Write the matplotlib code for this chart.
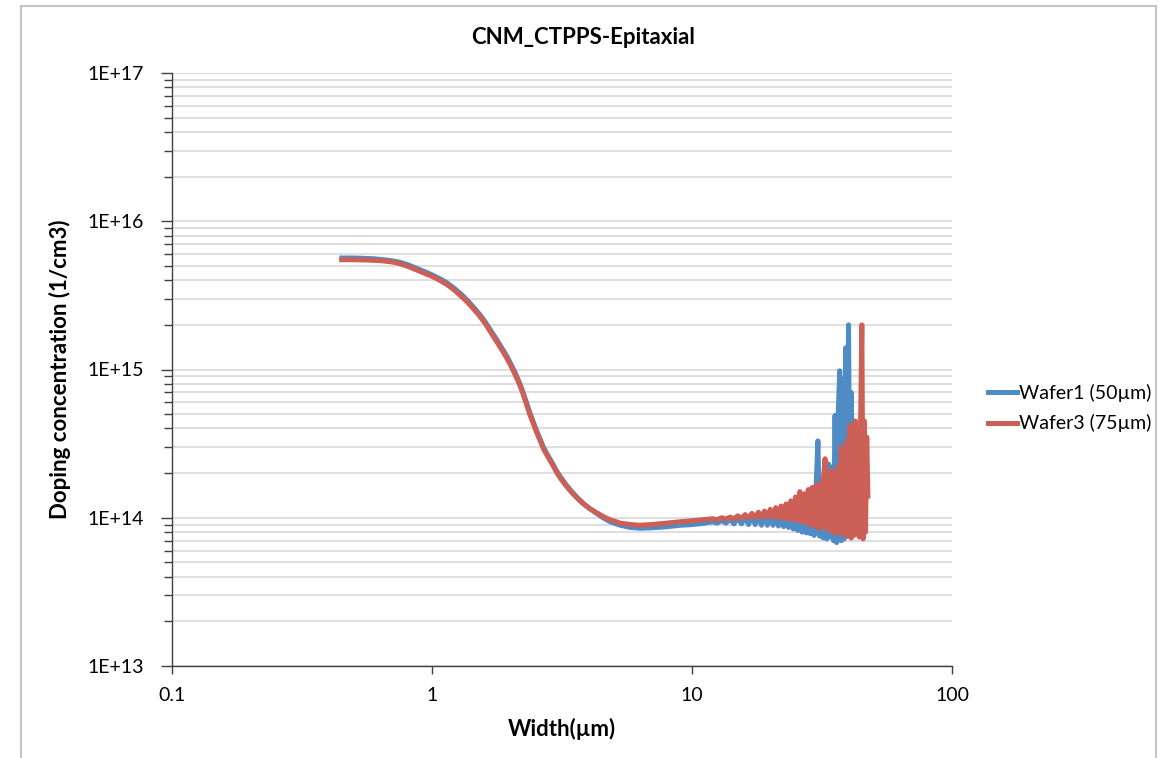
import numpy as np
import matplotlib.pyplot as plt
from matplotlib.ticker import FuncFormatter, LogLocator, NullFormatter
from matplotlib.patches import Rectangle

plt.rcParams['font.family'] = ['Lato', 'DejaVu Sans']

# Wafer1 (50um) - width (um) and doping (1/cm3)
w1_x = [0.45, 0.5, 0.55, 0.6, 0.65, 0.7, 0.75, 0.81, 0.87, 0.93, 1.0, 1.07, 1.14, 1.22, 1.3,
        1.37, 1.44, 1.52, 1.6, 1.68, 1.77, 1.85, 1.93, 2.01, 2.09, 2.16, 2.23, 2.3, 2.38,
        2.45, 2.52, 2.6, 2.68, 2.79, 2.9, 3.0, 3.11, 3.27, 3.45, 3.63, 3.82, 4.05, 4.3,
        4.55, 4.84, 5.3, 5.8, 6.3, 7.0, 8.0, 9.0, 10.0, 11.0,
        12.0, 12.5, 13.0, 13.5, 14.0, 14.5, 15.0, 15.5, 16.0, 16.5, 17.0, 17.5, 18.0, 18.5,
        19.0, 19.5, 20.0, 20.5, 21.0, 21.5, 22.0, 22.5, 23.0, 23.5, 24.0, 24.5, 25.0, 25.5,
        26.0, 26.5, 27.0, 27.5, 28.0, 28.5, 29.0, 29.5, 30.0, 30.5, 31.0, 31.5, 32.0, 32.5,
        33.0, 33.5, 34.0, 34.5, 35.0, 35.5, 36.0, 36.5, 37.0, 37.5, 38.0, 38.5, 39.0, 39.5,
        40.0, 40.5, 41.0, 41.5, 42.0, 42.5]
w1_y = [5.65e15, 5.65e15, 5.62e15, 5.58e15, 5.5e15, 5.42e15, 5.3e15, 5.08e15, 4.82e15,
        4.6e15, 4.35e15, 4.1e15, 3.85e15, 3.52e15, 3.2e15, 2.92e15, 2.65e15, 2.37e15,
        2.1e15, 1.84e15, 1.6e15, 1.41e15, 1.25e15, 1.09e15, 9.5e14, 8.3e14, 7.2e14, 6.1e14,
        5.1e14, 4.45e14, 3.9e14, 3.42e14, 3.0e14, 2.63e14, 2.35e14, 2.1e14, 1.9e14, 1.68e14,
        1.5e14, 1.36e14, 1.25e14, 1.15e14, 1.07e14, 1.0e14, 9.4e13, 8.9e13, 8.6e13, 8.5e13,
        8.55e13, 8.7e13, 8.9e13, 9.0e13, 9.15e13,
        9.4e13, 9.2e13, 9.6e13, 9.2e13, 9.8e13, 9.1e13, 1.0e14, 9.1e13, 1.01e14, 9.0e13,
        1.03e14, 9.0e13, 1.05e14, 8.9e13, 1.08e14, 8.9e13, 1.1e14, 8.9e13, 1.13e14, 8.8e13,
        1.17e14, 8.7e13, 1.2e14, 8.6e13, 1.25e14, 8.4e13, 1.3e14, 8.2e13, 1.35e14, 8.0e13,
        1.4e14, 7.9e13, 1.5e14, 7.8e13, 1.55e14, 7.6e13, 1.6e14, 3.3e14, 7.5e13, 1.8e14,
        7.3e13, 2.0e14, 7.2e13, 2.3e14, 7.4e13, 2.2e14, 7.0e13, 4.9e14, 6.8e13, 5.0e14,
        9.8e14, 7.0e13, 8.6e14, 7.2e13, 1.4e15, 7.5e13, 2.0e15, 8.0e13, 7.0e14, 9.0e13,
        2.9e14, 1.2e14]

# Wafer3 (75um)
w3_x = [0.45, 0.5, 0.55, 0.6, 0.65, 0.7, 0.75, 0.81, 0.87, 0.93, 1.0, 1.07, 1.14, 1.22, 1.3,
        1.37, 1.44, 1.52, 1.6, 1.68, 1.77, 1.85, 1.93, 2.01, 2.09, 2.16, 2.23, 2.3, 2.38,
        2.45, 2.52, 2.6, 2.68, 2.79, 2.9, 3.0, 3.11, 3.27, 3.45, 3.63, 3.82, 4.05, 4.3,
        4.55, 4.84, 5.3, 5.8, 6.3, 7.0, 8.0, 9.0, 10.0, 11.0,
        12.0, 12.5, 13.0, 13.5, 14.0, 14.5, 15.0, 15.5, 16.0, 16.5, 17.0, 17.5, 18.0, 18.5,
        19.0, 19.5, 20.0, 20.5, 21.0, 21.5, 22.0, 22.5, 23.0, 23.5, 24.0, 24.5, 25.0, 25.5,
        26.0, 26.5, 27.0, 27.5, 28.0, 28.5, 29.0, 29.5, 30.0, 30.5, 31.0, 31.5, 32.0, 32.5,
        33.0, 33.5, 34.0, 34.5, 35.0, 35.5, 36.0, 36.5, 37.0, 37.5, 38.0, 38.5, 39.0, 39.5,
        40.0, 40.5, 41.0, 41.5, 42.0, 42.5, 43.0, 43.5, 44.0, 44.5, 45.0, 45.5, 46.0, 46.5,
        47.0, 47.5]
w3_y = [5.5e15, 5.5e15, 5.48e15, 5.45e15, 5.4e15, 5.32e15, 5.18e15, 4.95e15, 4.7e15,
        4.48e15, 4.25e15, 4.0e15, 3.75e15, 3.43e15, 3.1e15, 2.84e15, 2.58e15, 2.31e15,
        2.05e15, 1.79e15, 1.55e15, 1.37e15, 1.21e15, 1.06e15, 9.2e14, 8.1e14, 7.0e14, 5.95e14,
        4.95e14, 4.35e14, 3.8e14, 3.35e14, 2.93e14, 2.58e14, 2.3e14, 2.06e14, 1.86e14, 1.65e14,
        1.48e14, 1.35e14, 1.24e14, 1.15e14, 1.08e14, 1.02e14, 9.7e13, 9.2e13, 9.0e13, 8.9e13,
        9.0e13, 9.2e13, 9.4e13, 9.55e13, 9.7e13,
        9.85e13, 9.7e13, 1.0e14, 9.8e13, 1.01e14, 9.85e13, 1.03e14, 9.9e13, 1.05e14, 1.0e14,
        1.07e14, 1.0e14, 1.09e14, 1.01e14, 1.11e14, 1.01e14, 1.14e14, 1.01e14, 1.17e14, 1.0e14,
        1.2e14, 9.9e13, 1.24e14, 9.8e13, 1.3e14, 9.7e13, 1.38e14, 9.6e13, 1.5e14, 9.4e13,
        1.45e14, 9.2e13, 1.55e14, 9.0e13, 1.6e14, 8.8e13, 1.65e14, 8.6e13, 1.7e14, 8.5e13,
        1.8e14, 2.5e14, 8.5e13, 2.0e14, 8.2e13, 2.1e14, 8.0e13, 1.9e14, 7.8e13, 2.2e14,
        8.5e13, 3.0e14, 7.8e13, 2.6e14, 7.6e13, 3.3e14, 7.5e13, 4.2e14, 7.3e13, 3.5e14,
        7.6e13, 4.5e14, 7.8e13, 3.8e14, 7.4e13, 4.3e14, 2.0e15, 7.2e13, 4.5e14, 8.0e13,
        3.5e14, 1.4e14]

fig = plt.figure(figsize=(11.66, 7.58), dpi=100)
ax = fig.add_axes([172 / 1166, 1 - 666 / 758, 780 / 1166, 593 / 758])

ax.plot(w1_x, w1_y, color='#4f8bc4', lw=3.6, label='Wafer1 (50µm)', solid_joinstyle='round')
ax.plot(w3_x, w3_y, color='#cc5f56', lw=3.6, label='Wafer3 (75µm)', solid_joinstyle='round')

ax.set_xscale('log')
ax.set_yscale('log')
ax.set_xlim(0.1, 100)
ax.set_ylim(1e13, 1e17)

ax.yaxis.set_major_locator(LogLocator(base=10, numticks=10))
ax.yaxis.set_minor_locator(LogLocator(base=10, subs=np.arange(2, 10), numticks=50))
ax.yaxis.set_minor_formatter(NullFormatter())
ax.yaxis.set_major_formatter(FuncFormatter(lambda v, _: f"1E+{int(round(np.log10(v)))}"))
ax.xaxis.set_major_formatter(FuncFormatter(lambda v, _: f"{v:g}"))
ax.xaxis.set_minor_locator(plt.NullLocator())

ax.grid(True, which='both', axis='y', color='#d9d9d9', lw=1.2)
ax.set_axisbelow(True)
for s in ['top', 'right']:
    ax.spines[s].set_visible(False)
for s in ['left', 'bottom']:
    ax.spines[s].set_color('#404040')
    ax.spines[s].set_linewidth(1.0)

ax.tick_params(axis='y', which='major', length=8, width=1, color='#404040', labelsize=14, pad=12)
ax.tick_params(axis='y', which='minor', length=6, width=1, color='#404040')
ax.tick_params(axis='x', which='major', length=6, width=1, color='#404040', labelsize=14, pad=9)

ax.set_xlabel('Width(µm)', fontsize=16, fontweight='bold', labelpad=10)
ax.set_ylabel('Doping concentration (1/cm3)', fontsize=16, fontweight='bold', labelpad=12)
fig.text(0.5, 1 - 37 / 758, 'CNM_CTPPS-Epitaxial', ha='center', va='center',
         fontsize=16, fontweight='bold')

fig.legend(loc='center left', bbox_to_anchor=(988 / 1166, 1 - 408 / 758), frameon=False,
           fontsize=14, handlelength=1.5, handletextpad=0.1, labelspacing=0.65,
           borderpad=0, borderaxespad=0)

fig.patches.append(Rectangle((21 / 1166, -0.05), 1135 / 1166, 1.05 - 6 / 758,
                             transform=fig.transFigure, fill=False,
                             edgecolor='#c4c4c4', lw=1.5))

fig.savefig('out.png', dpi=100)
